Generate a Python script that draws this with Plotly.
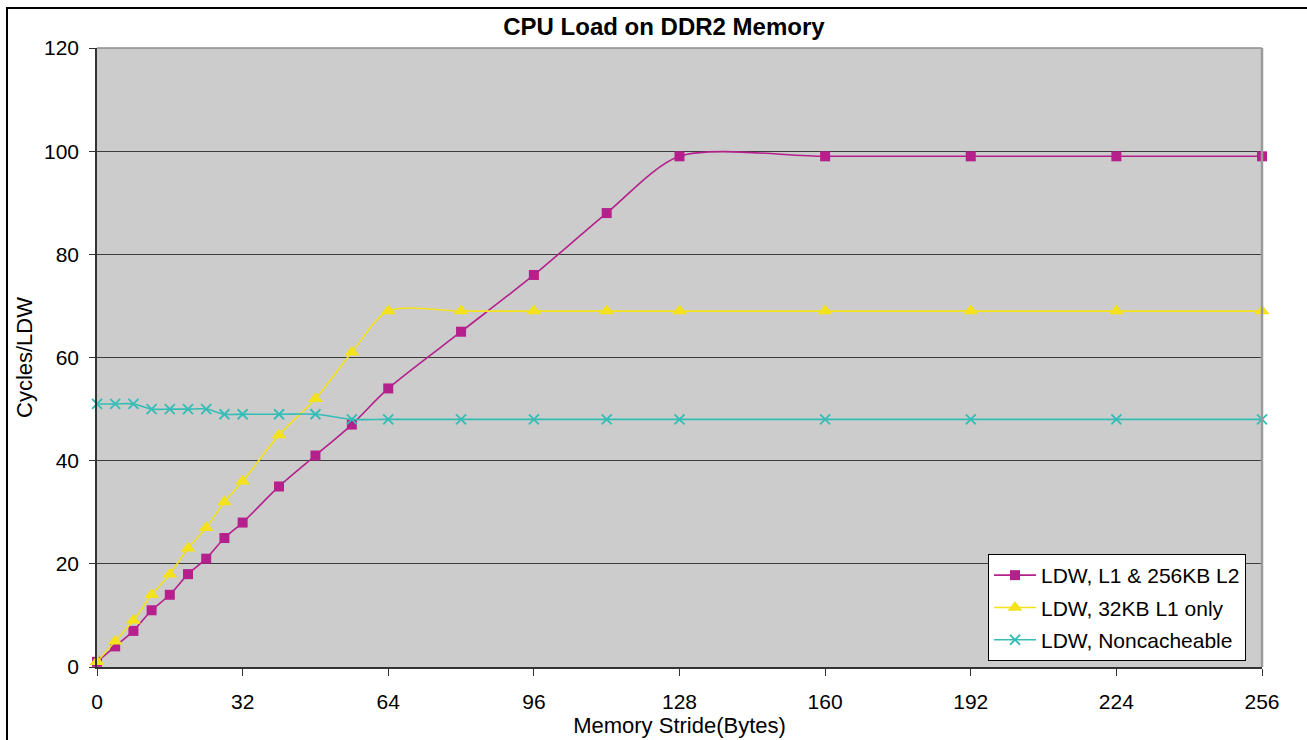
import plotly.graph_objects as go

# Memory stride in bytes
stride = [0, 4, 8, 12, 16, 20, 24, 28, 32, 40, 48, 56, 64, 80, 96, 112, 128, 160, 192, 224, 256]

# Cycles per LDW for each cache configuration
l1_l2_256kb = [1, 4, 7, 11, 14, 18, 21, 25, 28, 35, 41, 47, 54, 65, 76, 88, 99, 99, 99, 99, 99]
l1_32kb_only = [1, 5, 9, 14, 18, 23, 27, 32, 36, 45, 52, 61, 69, 69, 69, 69, 69, 69, 69, 69, 69]
noncacheable = [51, 51, 51, 50, 50, 50, 50, 49, 49, 49, 49, 48, 48, 48, 48, 48, 48, 48, 48, 48, 48]

series_names = ["LDW, L1 & 256KB L2", "LDW, 32KB L1 only", "LDW, Noncacheable"]
x_ticks = [0, 32, 64, 96, 128, 160, 192, 224, 256]
y_ticks = [0, 20, 40, 60, 80, 100, 120]

MAGENTA = "#B5208C"
YELLOW = "#F3E21C"
CYAN = "#33BDB6"
FONT = "Liberation Sans, Arial, sans-serif"

fig = go.Figure()

fig.add_trace(go.Scatter(
    x=stride, y=l1_l2_256kb, name=series_names[0], legendgroup="a",
    mode="lines+markers", cliponaxis=False,
    line=dict(color=MAGENTA, width=1.6, shape="spline", smoothing=0.8),
    marker=dict(symbol="square", size=10, color=MAGENTA),
))
fig.add_trace(go.Scatter(
    x=stride, y=l1_32kb_only, name=series_names[1], legendgroup="b",
    mode="lines+markers", cliponaxis=False,
    line=dict(color=YELLOW, width=1.6, shape="spline", smoothing=0.8),
    marker=dict(symbol="triangle-up", size=13, color=YELLOW),
))
fig.add_trace(go.Scatter(
    x=stride, y=noncacheable, name=series_names[2], legendgroup="c",
    mode="lines+markers", cliponaxis=False,
    line=dict(color=CYAN, width=1.6, shape="spline", smoothing=0.8),
    marker=dict(symbol="x-thin", size=10, color=CYAN, line=dict(color=CYAN, width=1.8)),
))

L, R, T, B = 97, 45, 48, 73
W, H = 1307, 740
pw, ph = W - L - R, H - T - B

def px_x(p):
    return (p - L) / pw

def px_y(p):
    return (H - B - p) / ph

shapes = [
    # outer chart frame
    dict(type="rect", xref="paper", yref="paper",
         x0=px_x(7), x1=px_x(1320), y0=px_y(760), y1=px_y(8),
         line=dict(color="black", width=2), fillcolor="rgba(0,0,0,0)", layer="below"),
    # plot area top and right edges
    dict(type="line", xref="paper", yref="paper", x0=0, x1=1, y0=1, y1=1,
         line=dict(color="#8c8c8c", width=1.5)),
    dict(type="line", xref="paper", yref="paper", x0=1, x1=1, y0=0, y1=1,
         line=dict(color="#9a9a9a", width=2.5)),
]

fig.update_layout(
    width=W, height=H,
    margin=dict(l=L, r=R, t=T, b=B),
    paper_bgcolor="white",
    plot_bgcolor="#CCCCCC",
    font=dict(family=FONT, size=21, color="black"),
    title=dict(text="<b>CPU Load on DDR2 Memory</b>", x=0.508, xanchor="center",
               y=1 - 27 / H, yanchor="middle", font=dict(size=24, family=FONT)),
    xaxis=dict(
        range=[0, 256], tickvals=x_ticks, ticktext=[str(v) for v in x_ticks],
        showgrid=False, zeroline=False, showline=True, linecolor="#333333", linewidth=1.5,
        ticks="outside", ticklen=7, tickcolor="#333333", ticklabelstandoff=8,
        title=dict(text="Memory Stride(Bytes)", font=dict(size=22), standoff=0),
        tickfont=dict(size=21),
    ),
    yaxis=dict(
        range=[0, 120], tickvals=y_ticks,
        showgrid=True, gridcolor="#3c3c3c", gridwidth=1,
        zeroline=False, showline=True, linecolor="#333333", linewidth=1.5,
        ticks="outside", ticklen=6, tickcolor="#333333", ticklabelstandoff=6,
        title=dict(text="Cycles/LDW", font=dict(size=22), standoff=5),
        tickfont=dict(size=21),
    ),
    legend=dict(
        x=px_x(988), y=px_y(554), xanchor="left", yanchor="top",
        bgcolor="white", bordercolor="black", borderwidth=1,
        font=dict(size=21, family=FONT), tracegroupgap=2, itemwidth=42,
    ),
    shapes=shapes,
)

fig.write_html("out.html")
